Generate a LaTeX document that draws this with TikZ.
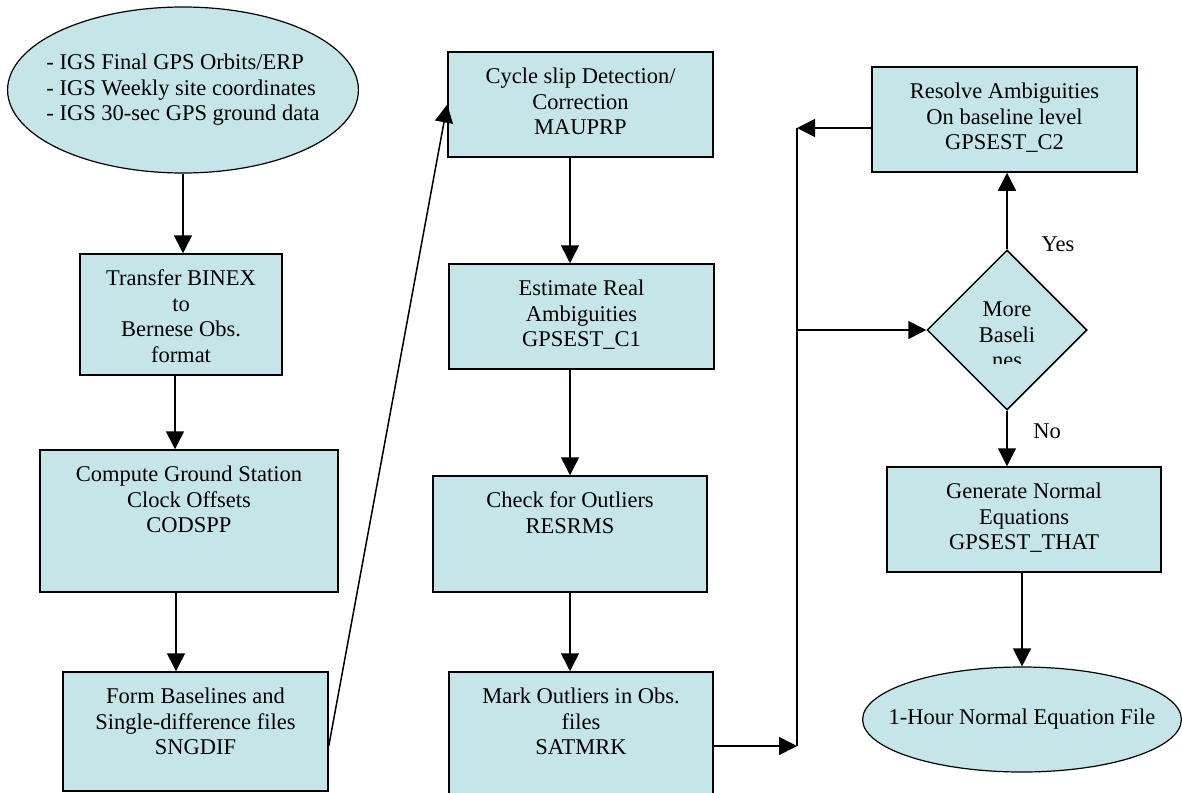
\documentclass[tikz,border=0pt]{standalone}
\usepackage{fontspec}
\setmainfont{Liberation Serif}
\usetikzlibrary{shapes.geometric,arrows.meta}
\definecolor{boxcol}{RGB}{198,229,232}
\tikzstyle{bx}=[rectangle,draw=black,fill=boxcol,line width=1.5pt,inner sep=0pt]
\tikzstyle{el}=[ellipse,draw=black,fill=boxcol,line width=1.2pt,inner ysep=0pt]
\tikzstyle{dm}=[diamond,draw=black,fill=boxcol,line width=1.5pt,inner sep=0pt,minimum width=160pt,minimum height=160pt]
\tikzstyle{ar}=[-{Triangle[length=18pt,width=18pt]},line width=1.5pt]
\newcommand{\bt}[3]{\parbox[c][#2][t]{#1}{\centering\vspace*{14pt}\strut #3}}

\begin{document}
\begin{tikzpicture}[x=1pt,y=-1pt,font=\fontsize{22.5}{25.5}\selectfont]
\useasboundingbox (0,0) rectangle (1182,792);
% left column
\node[el,inner xsep=-12.5pt,minimum height=166pt,align=left] (src) at (183,90) {- IGS Final GPS Orbits/ERP\\- IGS Weekly site coordinates\\- IGS 30-sec GPS ground data};
\node[bx] (trf) at (181,314.5) {\bt{202pt}{121pt}{Transfer BINEX\\to\\Bernese Obs.\\format}};
\node[bx] (cmp) at (189,521) {\bt{298pt}{142pt}{Compute Ground Station\\Clock Offsets\\CODSPP}};
\node[bx] (frm) at (195.5,731.5) {\bt{265pt}{119pt}{Form Baselines and\\Single-difference files\\SNGDIF}};
% middle column
\node[bx] (cyc) at (580.5,104.5) {\bt{265pt}{105pt}{Cycle slip Detection/\\Correction\\MAUPRP}};
\node[bx] (est) at (581.5,316.5) {\bt{265pt}{105pt}{Estimate Real\\Ambiguities\\GPSEST\_C1}};
\node[bx] (chk) at (570,534) {\bt{274pt}{116pt}{Check for Outliers\\RESRMS}};
\node[bx] (mrk) at (581,734.5) {\bt{264pt}{125pt}{Mark Outliers in Obs.\\files\\SATMRK}};
% right column
\node[bx] (res) at (1004.5,119.5) {\bt{265pt}{105pt}{Resolve Ambiguities\\On baseline level\\GPSEST\_C2}};
\node[dm] (dec) at (1007,330) {};
\begin{scope}
\clip (900,240) rectangle (1100,363);
\node[align=center] (dect) at (1007,335) {More\\Baseli\\nes};
\end{scope}
\node[bx] (gen) at (1024,519.5) {\bt{274pt}{105pt}{Generate Normal\\Equations\\GPSEST\_THAT}};
\node[el,inner xsep=-20.7pt,minimum height=105pt] (out) at (1022,719.5) {1-Hour Normal Equation File};
\node (yes) at (1058,244) {Yes};
\node (no) at (1047,431) {No};
\coordinate (j1) at (797,746);
\coordinate (j2) at (797,128);
% arrows
\draw[ar] (src.south) -- (src.south |- trf.north);
\draw[ar] ([xshift=-6pt]trf.south) -- ([xshift=-6pt]trf.south |- cmp.north);
\draw[ar] ([xshift=-13pt]cmp.south) -- ([xshift=-13pt]cmp.south |- frm.north);
\draw[ar] ([yshift=-14.5pt]frm.east) -- (cyc.west);
\draw[ar] (cyc.south -| chk.north) -- (est.north -| chk.north);
\draw[ar] (est.south -| chk.north) -- (chk.north);
\draw[ar] (chk.south) -- (chk.south |- mrk.north);
\draw[line width=1.5pt] (j1) -- (j2);
\draw[ar] ([yshift=-11.5pt]mrk.east) -- (j1);
\draw[ar] ([yshift=-8.5pt]res.west) -- (j2);
\draw[ar] (j2 |- dec.west) -- (dec.west);
\draw[ar] (dec.north) -- (dec.north |- res.south);
\draw[ar] (dec.south) -- (dec.south |- gen.north);
\draw[ar] (out.north |- gen.south) -- (out.north);
\end{tikzpicture}
\end{document}
